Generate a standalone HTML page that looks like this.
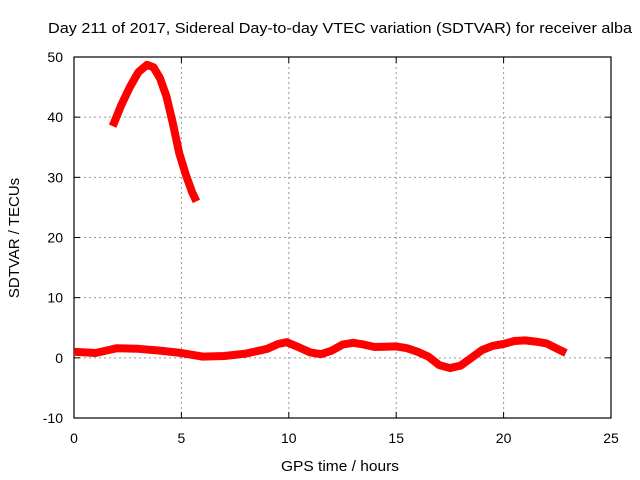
<!DOCTYPE html>
<html><head><meta charset="utf-8"><style>body{margin:0;background:#fff}svg{display:block;font-family:"Liberation Sans",sans-serif}</style></head>
<body>
<svg id="c" width="640" height="480"></svg>
<script>
const xTicks=[0,5,10,15,20,25];
const yTicks=[-10,0,10,20,30,40,50];
const upperX=[1.8,2.2,2.6,3.0,3.4,3.7,4.0,4.3,4.6,4.9,5.2,5.5,5.7];
const upperY=[38.5,42,45,47.5,48.7,48.3,46.5,43.5,39,34,30.5,27.5,26];
const lowerX=[0,0.5,1,1.5,2,3,4,5,6,7,8,9,9.5,9.9,10.5,11,11.5,12,12.5,13,13.5,14,15,15.5,16,16.5,17,17.5,18,18.5,19,19.5,20,20.5,21,21.5,22,22.5,22.9];
const lowerY=[1,0.9,0.8,1.2,1.6,1.5,1.2,0.8,0.2,0.3,0.7,1.5,2.3,2.6,1.7,0.9,0.6,1.2,2.2,2.5,2.2,1.8,1.9,1.6,1.0,0.2,-1.2,-1.7,-1.3,0,1.3,2,2.3,2.8,2.9,2.7,2.4,1.5,0.8];
const L=74,R=611,T=57,B=418;
const sx=v=>L+(v-0)/25*(R-L), sy=v=>B-(v+10)/60*(B-T);
const svg=document.getElementById('c');const NS='http://www.w3.org/2000/svg';
function mk(t,a,txt){const e=document.createElementNS(NS,t);for(const k in a)e.setAttribute(k,a[k]);if(txt!=null)e.textContent=txt;svg.appendChild(e);return e;}
let e;
e=mk('text',{x:48,y:33,'font-size':15,textLength:584,lengthAdjust:'spacingAndGlyphs'},'Day 211 of 2017, Sidereal Day-to-day VTEC variation (SDTVAR) for receiver alba');


xTicks.forEach(v=>{const x=sx(v);
 if(v>0&&v<25){e=mk('line',{x1:x,x2:x,y1:T,y2:B,stroke:'#999','stroke-dasharray':'2,3'});}
 mk('line',{x1:x,x2:x,y1:B,y2:B-6,stroke:'#000'});mk('line',{x1:x,x2:x,y1:T,y2:T+6,stroke:'#000'});
 e=mk('text',{x:x,y:443,'font-size':14,'text-anchor':'middle'},v);});
yTicks.forEach(v=>{const y=sy(v);
 if(v>-10&&v<50){e=mk('line',{x1:L,x2:R,y1:y,y2:y,stroke:'#999','stroke-dasharray':'2,3'});}
 mk('line',{x1:L,x2:L+6,y1:y,y2:y,stroke:'#000'});mk('line',{x1:R,x2:R-6,y1:y,y2:y,stroke:'#000'});
 e=mk('text',{x:63,y:y+5,'font-size':14,'text-anchor':'end'},v);});
e=mk('rect',{x:L,y:T,width:R-L,height:B-T,fill:'none',stroke:'#000','stroke-width':1.2});


function series(xs,ys,name){const p=xs.map((x,i)=>sx(x)+','+sy(ys[i])).join(' ');
 const el=mk('polyline',{points:p,fill:'none',stroke:'#f00','stroke-width':8,'stroke-linejoin':'round'});
 
 }
series(upperX,upperY,'sdtvar-series-upper');
series(lowerX,lowerY,'sdtvar-series-lower');
e=mk('text',{x:281,y:471,'font-size':15,textLength:118,lengthAdjust:'spacingAndGlyphs'},'GPS time / hours');


e=mk('text',{x:19,y:238,'font-size':15,'text-anchor':'middle',transform:'rotate(-90 19 238)'},'SDTVAR / TECUs');


</script>
</body></html>
